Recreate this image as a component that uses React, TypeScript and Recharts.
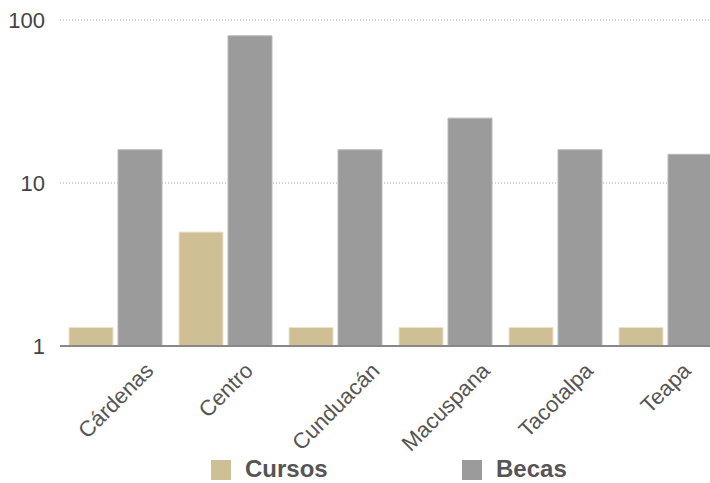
import React from 'react';
import { BarChart, Bar, XAxis, YAxis, CartesianGrid, Legend } from 'recharts';

const municipios = ['Cárdenas', 'Centro', 'Cunduacán', 'Macuspana', 'Tacotalpa', 'Teapa'];
const cursos = [1.3, 5, 1.3, 1.3, 1.3, 1.3];
const becas = [16, 80, 16, 25, 16, 15];
const yTicks = [1, 10, 100];

const data = municipios.map((m, i) => ({ municipio: m, cursos: cursos[i], becas: becas[i] }));

const FONT = '"Liberation Sans", Arial, Helvetica, sans-serif';

let canvasCtx: CanvasRenderingContext2D | null = null;
function textWidth(s: string, font: string) {
  if (!canvasCtx) canvasCtx = document.createElement('canvas').getContext('2d');
  if (!canvasCtx) return s.length * 11;
  canvasCtx.font = font;
  return canvasCtx.measureText(s).width;
}

// rotated label, end of text up-right of the tick
function XTick(props: any) {
  const { x, y, payload } = props;
  const w = textWidth(payload.value, `22px ${FONT}`);
  const ex = x + 6 + w * 0.354;
  const ey = y + 24;
  return (
    <text
      x={ex}
      y={ey}
      textAnchor="end"
      fill="#555"
      fontSize={22}
      fontFamily={FONT}
      transform={`rotate(-45 ${ex} ${ey})`}
    >
      {payload.value}
    </text>
  );
}

function LegendBox(props: any) {
  const items = [
    { name: 'Cursos', color: '#cfbf94', left: 211 },
    { name: 'Becas', color: '#9b9b9b', left: 462 },
  ];
  return (
    <div style={{ position: 'relative', height: 40, width: 700 }}>
      {items.map((it) => (
        <React.Fragment key={it.name}>
          <div style={{ position: 'absolute', left: it.left, top: 17, width: 20, height: 20, background: it.color }} />
          <span
            style={{
              position: 'absolute',
              left: it.left + 34,
              top: 12,
              lineHeight: 'normal',
              fontSize: 24,
              fontWeight: 'bold',
              color: '#555',
              fontFamily: FONT,
              whiteSpace: 'nowrap',
            }}
          >
            {it.name}
          </span>
        </React.Fragment>
      ))}
    </div>
  );
}

export default function App() {
  return (
    <div style={{ position: 'absolute', left: 0, top: 0, width: 710, height: 483, overflow: 'hidden', background: '#fff' }}>
      <BarChart
        width={720}
        height={483}
        data={data}
        margin={{ top: 20, right: 0, bottom: 0, left: 0 }}
        barSize={44}
        barGap={5}
      >
        <CartesianGrid vertical={false} stroke="#aaa" strokeDasharray="1 2" />
        <XAxis
          dataKey="municipio"
          height={97}
          interval={0}
          tickLine={false}
          tickSize={0}
          axisLine={{ stroke: '#888', strokeWidth: 2 }}
          tick={<XTick />}
        />
        <YAxis
          type="number"
          scale="log"
          domain={[1, 100]}
          ticks={yTicks}
          width={60}
          axisLine={false}
          tickLine={false}
          tickSize={0}
          tickMargin={15}
          tick={{ fill: '#444', fontSize: 22, fontFamily: FONT }}
        />
        <Legend verticalAlign="bottom" align="left" content={<LegendBox />} />
        <Bar dataKey="cursos" name="Cursos" fill="#cfbf94" stroke="#ebe3cd" strokeWidth={1} isAnimationActive={false} />
        <Bar dataKey="becas" name="Becas" fill="#9b9b9b" stroke="#b9b9b9" strokeWidth={1} isAnimationActive={false} />
      </BarChart>
    </div>
  );
}
